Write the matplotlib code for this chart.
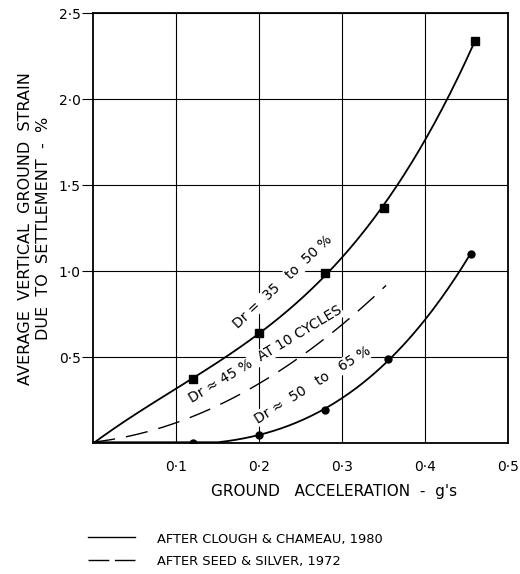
import numpy as np
import matplotlib.pyplot as plt

# values
acc_sq = np.array([0.0, 0.12, 0.20, 0.28, 0.35, 0.46])
strain_sq = np.array([0.0, 0.37, 0.64, 0.99, 1.37, 2.34])

acc_ci = np.array([0.0, 0.12, 0.20, 0.28, 0.355, 0.455])
strain_ci = np.array([0.0, 0.0, 0.045, 0.19, 0.49, 1.10])

acc_ss = np.array([0.0, 0.093, 0.165, 0.249, 0.289, 0.325, 0.353])
strain_ss = np.array([0.0, 0.116, 0.26, 0.49, 0.64, 0.785, 0.93])

xticks = [0.1, 0.2, 0.3, 0.4, 0.5]
yticks = [0.5, 1.0, 1.5, 2.0, 2.5]

def dot(v):
    return ('%.1f' % v).replace('.', '\u00b7')

fig = plt.figure(figsize=(5.2, 5.74), dpi=100)
ax = fig.add_axes([0.179, 0.228, 0.798, 0.749])

# smooth curves through the points
p1 = np.polyfit(acc_sq, strain_sq, 3)
x1 = np.linspace(0, acc_sq[-1], 200)
ax.plot(x1, np.polyval(p1, x1), 'k-', lw=1.3)
ax.plot(acc_sq[1:], strain_sq[1:], 'ks', ms=6)

p2 = np.polyfit(acc_ci, strain_ci, 3)
x2 = np.linspace(0, acc_ci[-1], 200)
y2 = np.clip(np.polyval(p2, x2), 0.005, None)
ax.plot(x2, y2, 'k-', lw=1.3)
ax.plot(acc_ci[1:], strain_ci[1:], 'ko', ms=5)

p3 = np.polyfit(acc_ss, strain_ss, 2)
x3 = np.linspace(0, acc_ss[-1], 200)
ax.plot(x3, np.polyval(p3, x3), 'k-', lw=1.0, dashes=(16, 8))

box = dict(facecolor='white', edgecolor='none', pad=0.5)
ax.text(0.229, 0.94, 'Dr =  35   to  50 %', rotation=43, fontsize=10,
        ha='center', va='center', rotation_mode='anchor', bbox=box, zorder=3)
ax.text(0.208, 0.515, 'Dr \u2248 45 %  AT 10 CYCLES', rotation=31, fontsize=10,
        ha='center', va='center', rotation_mode='anchor', bbox=box, zorder=3)
ax.text(0.265, 0.34, 'Dr \u2248  50   to   65 %', rotation=32, fontsize=10,
        ha='center', va='center', rotation_mode='anchor', bbox=box, zorder=3)

ax.set_xlim(0, 0.5)
ax.set_ylim(0, 2.5)
ax.set_xticks(xticks)
ax.set_xticklabels([dot(v) for v in xticks])
ax.set_yticks(yticks)
ax.set_yticklabels([dot(v) for v in yticks])
ax.tick_params(axis='x', length=0, pad=12, labelsize=10)
ax.tick_params(axis='y', length=8, direction='out', width=0.8, pad=1, labelsize=10)
ax.grid(True, color='k', lw=0.8)
for s in ax.spines.values():
    s.set_linewidth(1.3)

ax.text((334 - 93) / 415, (443 - 491) / 430, "GROUND   ACCELERATION  -  g's",
        fontsize=11, ha='center', va='center', transform=ax.transAxes)
ax.text(-(93 - 25) / 415, 0.5, 'AVERAGE  VERTICAL  GROUND  STRAIN',
        fontsize=11.5, rotation=90, ha='center', va='center', transform=ax.transAxes)
ax.text(-(93 - 43) / 415, 0.5, 'DUE  TO  SETTLEMENT  -  %',
        fontsize=11.5, rotation=90, ha='center', va='center', transform=ax.transAxes)

# legend drawn underneath
fig.lines.append(plt.Line2D([88/520, 135/520], [1-537/574]*2, color='k', lw=1.0,
                            transform=fig.transFigure))
fig.lines.append(plt.Line2D([88/520, 135/520], [1-560/574]*2, color='k', lw=1.0,
                            dashes=(15, 4), transform=fig.transFigure))
fig.text(157/520, 1-540/574, 'AFTER CLOUGH & CHAMEAU, 1980', fontsize=9.4, va='center')
fig.text(157/520, 1-561/574, 'AFTER SEED & SILVER, 1972', fontsize=9.4, va='center')

fig.savefig('out.png', dpi=100, facecolor='white')
